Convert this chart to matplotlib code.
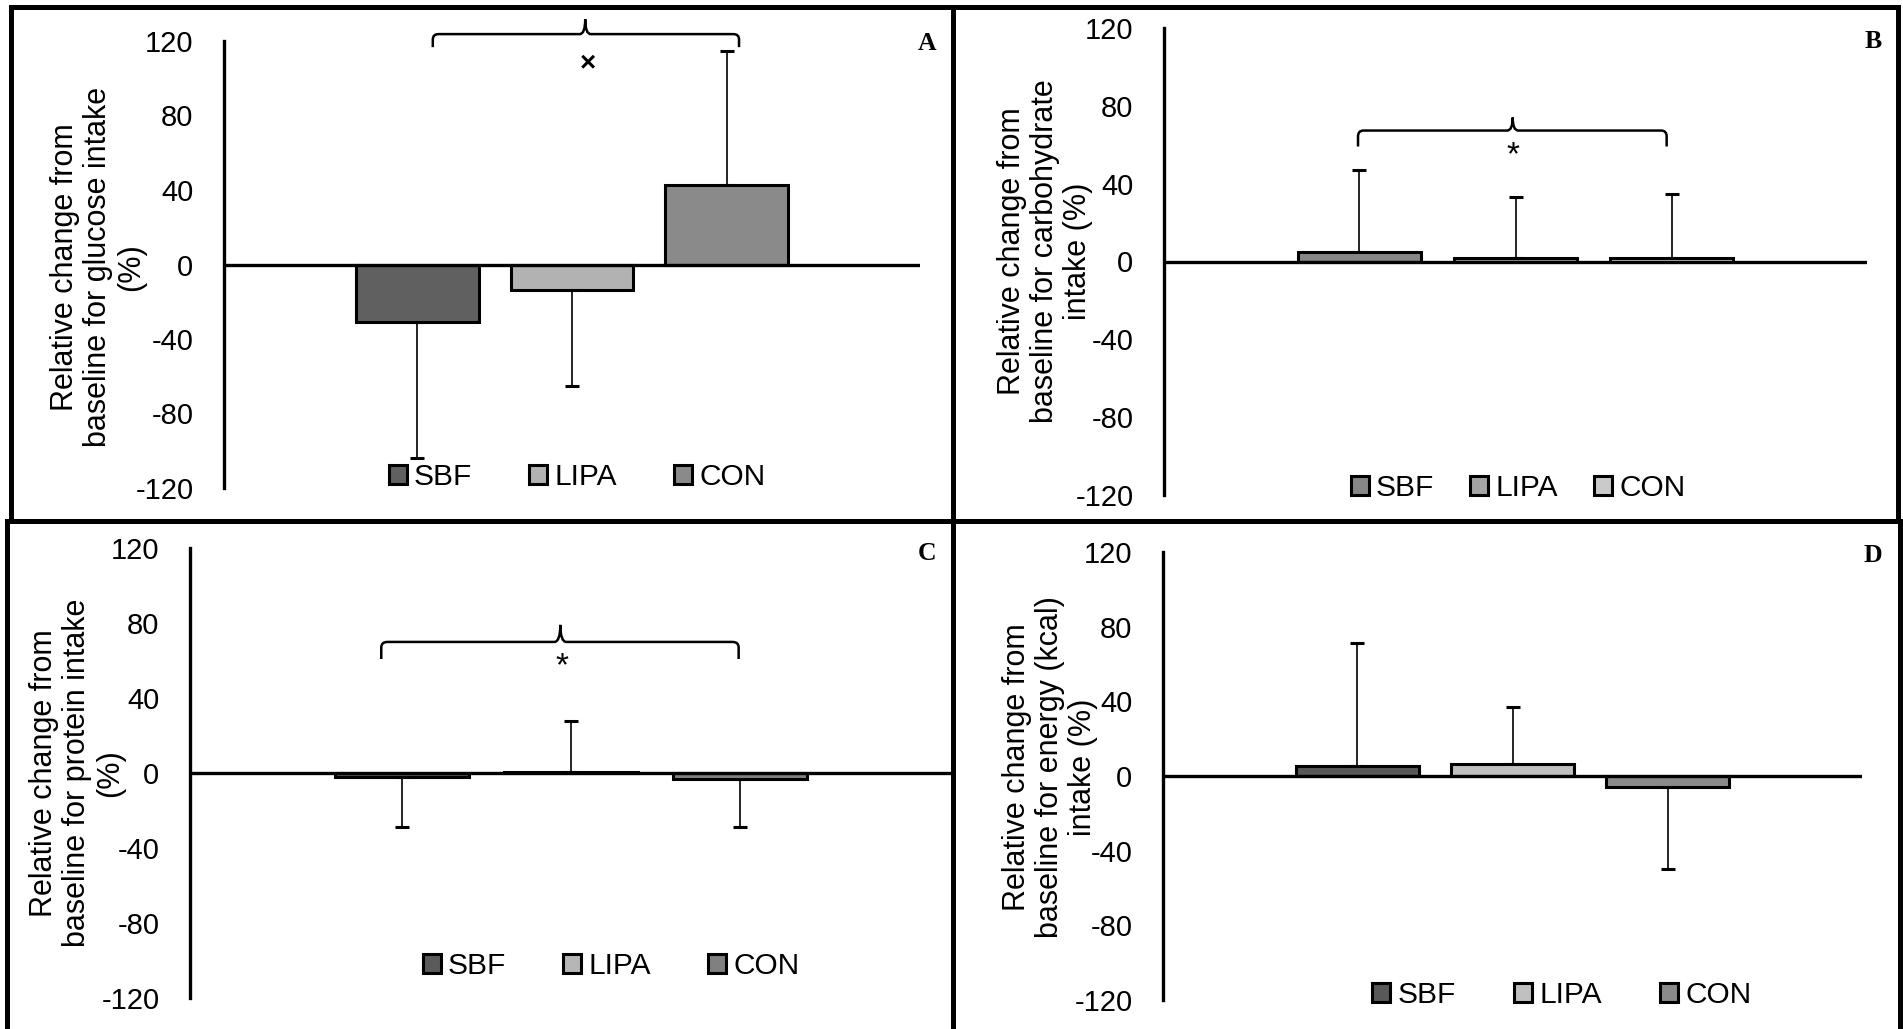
import numpy as np
import matplotlib.pyplot as plt
from matplotlib.patches import Rectangle, PathPatch
from matplotlib.path import Path

plt.rcParams['font.family'] = ['Liberation Sans', 'DejaVu Sans']
plt.rcParams['axes.unicode_minus'] = False

W, H = 1903, 1029

# data (mean % change and SD, one-sided error bars)
groups = ['SBF', 'LIPA', 'CON']

glucose_mean = [-31, -13.5, 42.5]
glucose_sd = [73, 51.5, 72]

carb_mean = [5, 2, 2]
carb_sd = [42, 31, 32.5]

protein_mean = [-2, 0.5, -3]
protein_sd = [27, 27, 26]

energy_mean = [5.5, 6.5, -6]
energy_sd = [65.5, 30.5, 44]

yticks = [-120, -80, -40, 0, 40, 80, 120]

ylabels = [
    'Relative change from\nbaseline for glucose intake\n(%)',
    'Relative change from\nbaseline for carbohydrate\nintake (%)',
    'Relative change from\nbaseline for protein intake\n(%)',
    'Relative change from\nbaseline for energy (kcal)\nintake (%)',
]
letters = ['A', 'B', 'C', 'D']
marks = ['×', '*', '*', None]

panels = [
    dict(mean=glucose_mean, sd=glucose_sd,
         colors=['#606060', '#b2b2b2', '#8a8a8a'],
         box=(224, 41, 920, 488), lab=(98, 267), leg=(577, 477), colsp=1.9,
         letter=(927, 43),
         brace=(-0.2, 0.24, 123.7, 116.7, 131.7, 0.019), mark=(0.023, 108)),
    dict(mean=carb_mean, sd=carb_sd,
         colors=['#868686', '#a4a4a4', '#cacaca'],
         box=(1164, 28, 1867, 495), lab=(1045, 251), leg=(1518, 488), colsp=1.2,
         letter=(1873, 42),
         brace=(-0.224, 0.215, 67.3, 59.1, 74.0, -0.004), mark=(-0.003, 54.5)),
    dict(mean=protein_mean, sd=protein_sd,
         colors=['#5a5a5a', '#b6b6b6', '#808080'],
         box=(190, 548, 952, 998), lab=(77, 773), leg=(611, 966), colsp=1.9,
         letter=(927, 554),
         brace=(-0.249, 0.22, 69.9, 60.8, 79.0, -0.014), mark=(-0.012, 56.5)),
    dict(mean=energy_mean, sd=energy_sd,
         colors=['#585858', '#c0c0c0', '#8a8a8a'],
         box=(1163, 552, 1862, 1000), lab=(1050, 767), leg=(1562, 995), colsp=1.95,
         letter=(1873, 556),
         brace=None, mark=None),
]


def brace(ax, x0, x1, y, yend, ytip, xt):
    rx, ry = 0.008, 3.0
    verts = [(x0, yend), (x0, y - ry), (x0, y), (x0 + rx, y),
             (xt - rx, y), (xt, y), (xt, ytip),
             (xt, y), (xt + rx, y),
             (x1 - rx, y), (x1, y), (x1, y - ry), (x1, yend)]
    codes = [Path.MOVETO, Path.LINETO, Path.CURVE3, Path.CURVE3,
             Path.LINETO, Path.CURVE3, Path.CURVE3,
             Path.CURVE3, Path.CURVE3,
             Path.LINETO, Path.CURVE3, Path.CURVE3, Path.LINETO]
    ax.add_patch(PathPatch(Path(verts, codes), fill=False, lw=1.8,
                           edgecolor='black', clip_on=False, zorder=5))


fig = plt.figure(figsize=(W / 100, H / 100), dpi=100)

xpos = np.array([-1, 0, 1]) * 0.222
for i, p in enumerate(panels):
    l, t, r, b = p['box']
    ax = fig.add_axes([l / W, 1 - b / H, (r - l) / W, (b - t) / H])
    mean = np.array(p['mean'], dtype=float)
    sd = np.array(p['sd'], dtype=float)
    for j, g in enumerate(groups):
        ax.bar(xpos[j], mean[j], width=0.176, color=p['colors'][j],
               edgecolor='black', linewidth=2.2, label=g, zorder=2)
    lower = np.where(mean < 0, sd, 0)
    upper = np.where(mean >= 0, sd, 0)
    ax.errorbar(xpos, mean, yerr=[lower, upper], fmt='none', ecolor='black',
                elinewidth=1.2, capsize=4.7, capthick=2.2, zorder=1)
    ax.axhline(0, color='black', lw=2.4, zorder=3)
    ax.set_xlim(-0.5, 0.5)
    ax.set_ylim(-120, 120)
    ax.set_yticks(yticks)
    ax.set_xticks([])
    ax.tick_params(axis='y', length=0, pad=22, labelsize=21)
    for s in ['top', 'right', 'bottom']:
        ax.spines[s].set_visible(False)
    ax.spines['left'].set_linewidth(2.4)
    ax.patch.set_alpha(0)

    fig.text(p['lab'][0] / W, 1 - p['lab'][1] / H, ylabels[i], rotation=90,
             ha='center', va='center', multialignment='center',
             fontsize=22, linespacing=1.15)

    ax.legend(loc='center', bbox_to_anchor=(p['leg'][0] / W, 1 - p['leg'][1] / H),
              bbox_transform=fig.transFigure, ncol=3, frameon=False,
              fontsize=21.5, handlelength=0.6, handleheight=0.6,
              handletextpad=0.25, columnspacing=p['colsp'], borderpad=0)

    fig.text(p['letter'][0] / W, 1 - p['letter'][1] / H, letters[i],
             ha='center', va='center', fontsize=18.5, fontweight='bold',
             family='Liberation Serif')

    if p['brace'] is not None:
        brace(ax, *p['brace'])
        mx, my = p['mark']
        ax.text(mx, my, marks[i], ha='center', va='center',
                fontsize=24 if marks[i] == '*' else 20,
                fontweight='bold' if marks[i] == '×' else 'normal',
                clip_on=False)

# panel frames
frames = [(11, 7, 953, 521), (953, 7, 1898, 521),
          (7, 521, 953, 1040), (953, 521, 1900, 1040)]
for l, t, r, b in frames:
    fig.add_artist(Rectangle((l / W, 1 - b / H), (r - l) / W, (b - t) / H,
                             transform=fig.transFigure, fill=False,
                             edgecolor='black', lw=3.6))

fig.savefig('out.png', dpi=100)
